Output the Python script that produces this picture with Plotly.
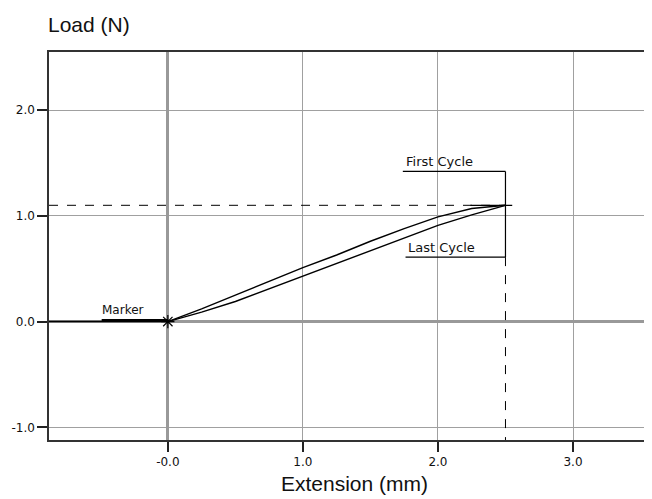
import plotly.graph_objects as go

# Data
first_x = [0.0, 0.25, 0.5, 0.75, 1.0, 1.25, 1.5, 1.75, 2.0, 2.25, 2.5]
first_y = [0.0, 0.12, 0.25, 0.38, 0.51, 0.63, 0.76, 0.88, 0.99, 1.07, 1.10]
last_x = [0.0, 0.25, 0.5, 0.75, 1.0, 1.25, 1.5, 1.75, 2.0, 2.25, 2.5]
last_y = [0.0, 0.09, 0.19, 0.31, 0.43, 0.55, 0.67, 0.79, 0.91, 1.01, 1.10]
preload_x = [-0.88, 0.0]
preload_y = [0.0, 0.0]
marker_x = [0.0]
marker_y = [0.0]
peak_x = 2.5
peak_y = 1.1
x_ticks = [0, 1, 2, 3]
x_ticktext = ["-0.0", "1.0", "2.0", "3.0"]
y_ticks = [-1, 0, 1, 2]
y_ticktext = ["-1.0", "0.0", "1.0", "2.0"]

XR = [-0.88, 3.585]
YR = [-1.12, 2.55]
TITLE_FONT = "Liberation Sans, Arial, sans-serif"
SMALL_FONT = "DejaVu Sans, Verdana, sans-serif"

fig = go.Figure()
fig.add_trace(go.Scatter(x=preload_x, y=preload_y, mode="lines",
                         line=dict(color="black", width=1.5), showlegend=False))
fig.add_trace(go.Scatter(x=first_x, y=first_y, mode="lines",
                         line=dict(color="black", width=1.4), showlegend=False))
fig.add_trace(go.Scatter(x=last_x, y=last_y, mode="lines",
                         line=dict(color="black", width=1.4), showlegend=False))
fig.add_trace(go.Scatter(x=marker_x, y=marker_y, mode="markers",
                         marker=dict(symbol="asterisk-open", size=11, color="black",
                                     line=dict(color="black", width=1.2)),
                         showlegend=False))

shapes = []
shapes.append(dict(type="line", xref="x", yref="y", x0=XR[0], x1=peak_x, y0=peak_y, y1=peak_y,
                   line=dict(color="black", width=1, dash="dash")))
shapes.append(dict(type="line", xref="x", yref="y", x0=peak_x, x1=peak_x, y0=0.61, y1=YR[0],
                   line=dict(color="black", width=1, dash="dash")))
shapes.append(dict(type="line", xref="x", yref="y", x0=2.24, x1=2.55, y0=peak_y, y1=peak_y,
                   line=dict(color="black", width=1.2)))
shapes.append(dict(type="line", xref="x", yref="y", x0=1.74, x1=peak_x, y0=1.42, y1=1.42,
                   line=dict(color="black", width=1.2)))
shapes.append(dict(type="line", xref="x", yref="y", x0=1.76, x1=peak_x, y0=0.61, y1=0.61,
                   line=dict(color="black", width=1.2)))
shapes.append(dict(type="line", xref="x", yref="y", x0=peak_x, x1=peak_x, y0=1.42, y1=0.61,
                   line=dict(color="black", width=1.2)))
shapes.append(dict(type="line", xref="x", yref="y", x0=-0.49, x1=0, y0=0.015, y1=0.015,
                   line=dict(color="black", width=2.2)))

annotations = [
    dict(x=1.745, y=1.42, xref="x", yref="y", text="First Cycle", showarrow=False,
         xanchor="left", yanchor="bottom", font=dict(family=SMALL_FONT, size=13, color="#111")),
    dict(x=1.76, y=0.61, xref="x", yref="y", text="Last Cycle", showarrow=False,
         xanchor="left", yanchor="bottom", font=dict(family=SMALL_FONT, size=13, color="#111")),
    dict(x=-0.5, y=0.02, xref="x", yref="y", text="Marker", showarrow=False,
         xanchor="left", yanchor="bottom", font=dict(family=SMALL_FONT, size=12, color="#111")),
    dict(x=0, y=1, xref="paper", yref="paper", text="Load (N)", showarrow=False,
         xanchor="left", yanchor="middle", xshift=-3, yshift=28,
         font=dict(family=TITLE_FONT, size=21, color="#111")),
    dict(x=0.506, y=0, xref="paper", yref="paper", text="Extension (mm)", showarrow=False,
         xanchor="center", yanchor="middle", yshift=-43,
         font=dict(family=TITLE_FONT, size=21, color="#111")),
]

axis_common = dict(ticks="outside", ticklen=10, tickwidth=1.5, tickcolor="#222",
                   showgrid=True, gridcolor="#a0a0a0", gridwidth=1,
                   zeroline=True, zerolinecolor="#999999", zerolinewidth=3,
                   showline=True, linecolor="#333", linewidth=1.5,
                   tickfont=dict(family=SMALL_FONT, size=12, color="#111"))

fig.update_layout(
    width=644, height=491,
    margin=dict(l=41, r=0, t=44, b=59, autoexpand=False),
    paper_bgcolor="white", plot_bgcolor="white",
    shapes=shapes, annotations=annotations,
    xaxis=dict(range=XR, tickvals=x_ticks, ticktext=x_ticktext, mirror=True, **axis_common),
    yaxis=dict(range=YR, tickvals=y_ticks, ticktext=y_ticktext, **axis_common),
)

fig.write_html("out.html")
